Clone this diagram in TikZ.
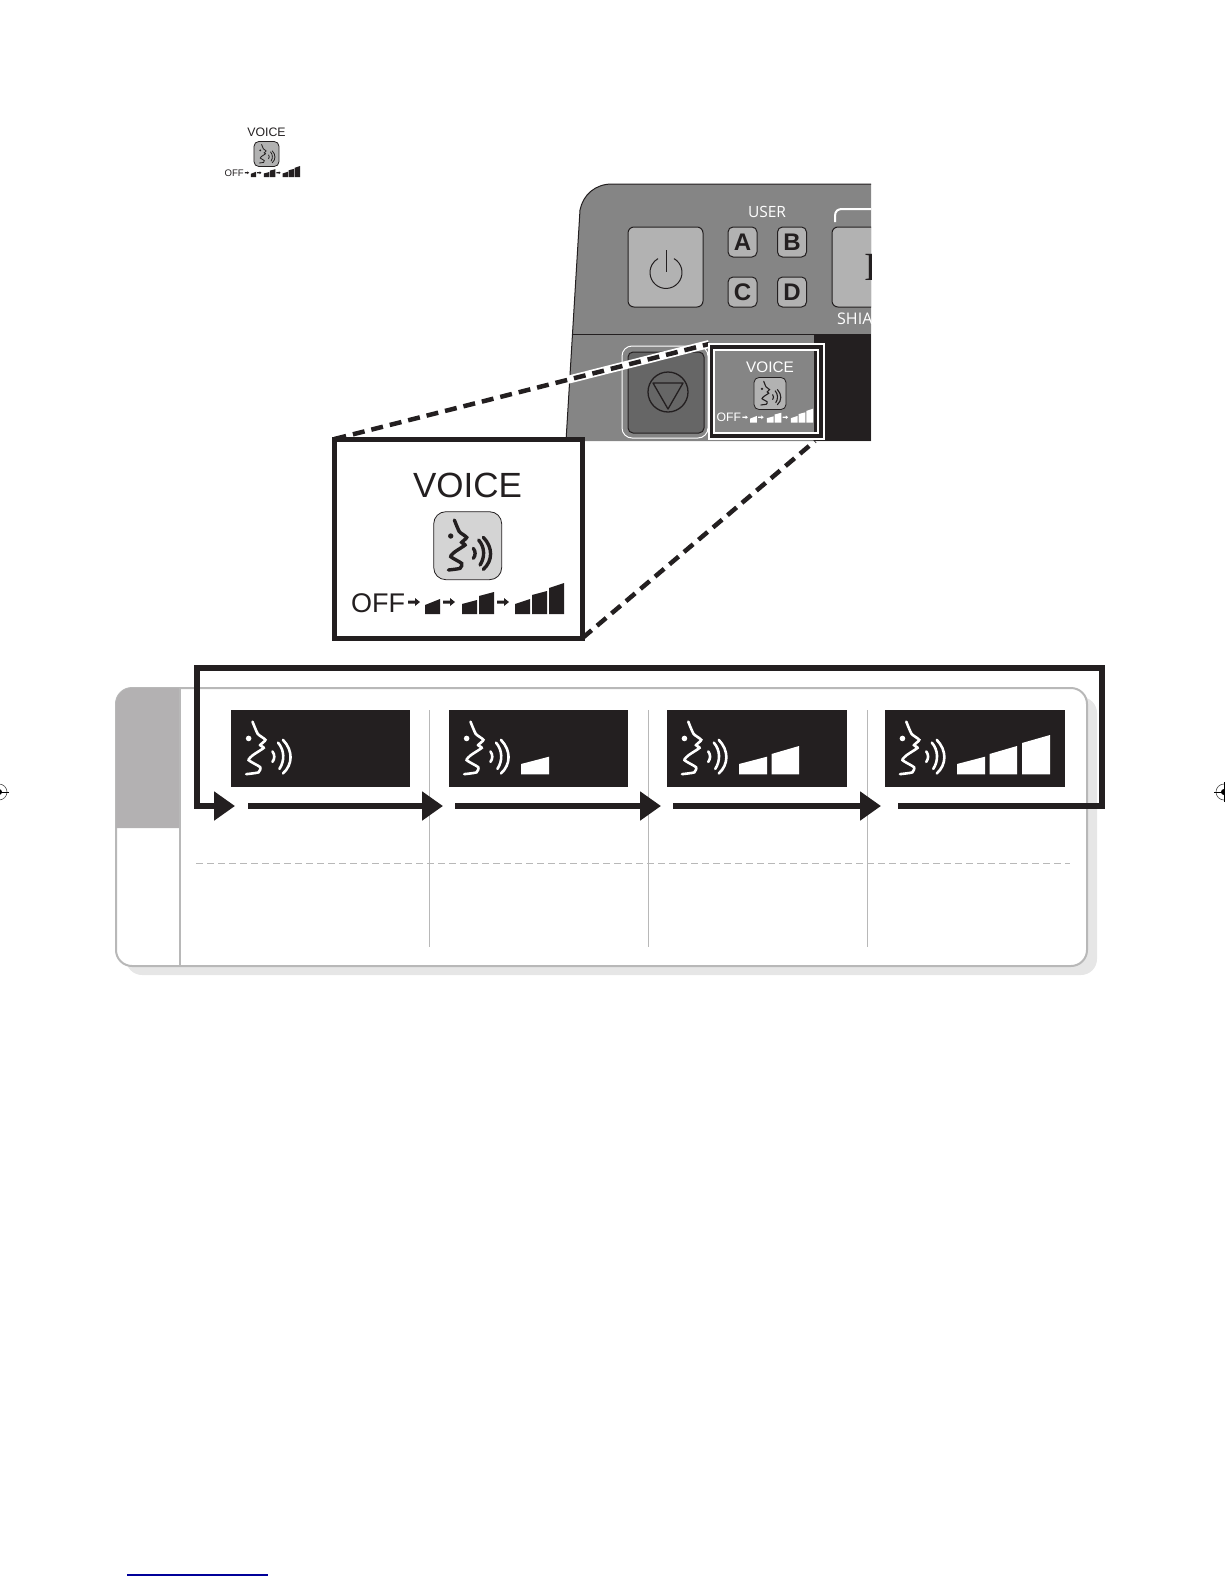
\documentclass[tikz,border=0pt]{standalone}
\usepackage{fontspec}
\usepackage{xcolor}
\usetikzlibrary{arrows.meta, positioning, calc}
\setmainfont{Liberation Sans}
\newfontfamily\panelfont{Open Sans}
\newfontfamily\romanfont{Liberation Serif}
\definecolor{Voice_Ink}{HTML}{231F20}
\definecolor{Voice_Head}{HTML}{B3B1B2}
\definecolor{Voice_Rim}{HTML}{B8B8B8}
\definecolor{Voice_Shade}{HTML}{E6E6E6}
\definecolor{Voice_Panel}{HTML}{858585}
\definecolor{Voice_Key}{HTML}{B2B2B2}
\newcommand{\sizedfont}[1]{\fontsize{#1}{#1}\selectfont}
\tikzset{
  stepbox/.style={rectangle, fill=Voice_Ink, inner sep=0pt, outer sep=0pt, minimum height=77pt},
  flowline/.style={line width=6pt, draw=Voice_Ink, -{Triangle[length=21pt,width=28pt]}},
  zoomline/.style={line width=4.5pt, Voice_Ink, dash pattern=on 12pt off 7pt},
  panelkey/.style={rounded corners=5pt, fill=Voice_Key, draw=Voice_Ink, line width=1pt},
  panellabel/.style={white, font=\panelfont\sizedfont{15.5}, inner sep=0pt},
  letterlabel/.style={Voice_Ink, font=\bfseries\sizedfont{24}, inner sep=0pt},
  guideline/.style={Voice_Rim, line width=1pt}
}
% speaking face: position, scale, line width, colour
\newcommand{\facemark}[4]{
  \begin{scope}[shift={#1}, scale=#2, line width=#3pt, #4, line cap=round]
    \draw plot[smooth, tension=0.3] coordinates {(-40,-77) (-25,-42) (-3,-25) (-18,-10) (-8,-2) (-38,18) (-51,33) (-18,53) (-23,68) (-58,73)};
    \fill (-51,-29) circle (8);
    \draw (17,8) .. controls (24,18) and (24,28) .. (17,38);
    \draw (33,-17) .. controls (52,5) and (52,35) .. (37,58);
    \draw (47,-25) .. controls (76,5) and (76,45) .. (47,71);
  \end{scope}
}
% key with face: position, scale, corner, fill, line width
\newcommand{\facekey}[5]{
  \begin{scope}[shift={#1}, scale=#2]
    \draw[rounded corners=#3pt, fill=#4, draw=Voice_Ink, line width=0.8pt] (-102,-102) rectangle (102,102);
  \end{scope}
  \facemark{#1}{#2}{#5}{Voice_Ink}
}
% OFF row: node name, position, scale, colour
\newcommand{\offrow}[4]{
  \begin{scope}[shift={#2}, scale=#3]
    \node[#4, transform shape, anchor=base west, inner sep=0pt, font=\sizedfont{27}] (#1) at (-1,-2) {OFF};
    \foreach \ax in {56,91,145} {
      \fill[#4] (\ax,-13.5) -- ++(7,0) -- ++(0,-2.5) -- ++(5,4) -- ++(-5,4) -- ++(0,-2.5) -- ++(-7,0) -- cycle;
    }
    \fill[#4] (73,0) -- (73,-9) -- (88,-15) -- (88,0) -- cycle;
    \fill[#4] (110,0) -- (110,-10) -- (125,-14) -- (125,0) -- cycle;
    \fill[#4] (127,0) -- (127,-18) -- (142,-22) -- (142,0) -- cycle;
    \fill[#4] (163,0) -- (163,-10) -- (178,-15) -- (178,0) -- cycle;
    \fill[#4] (180,0) -- (180,-19) -- (195,-23) -- (195,0) -- cycle;
    \fill[#4] (197,0) -- (197,-26) -- (212,-31) -- (212,0) -- cycle;
  \end{scope}
}
% level wedges of a display: box name, how many
\newcommand{\levelbars}[2]{
  \begin{scope}[shift={(#1.north west)}]
    \ifnum#2>0 \fill[white] (72,64.3) -- (72,54) -- (100,46.7) -- (100,64.3) -- cycle; \fi
    \ifnum#2>1 \fill[white] (104.5,64.3) -- (104.5,44) -- (132,36) -- (132,64.3) -- cycle; \fi
    \ifnum#2>2 \fill[white] (137,64.3) -- (137,33) -- (165,25) -- (165,64.3) -- cycle; \fi
  \end{scope}
}
\begin{document}
\begin{tikzpicture}[x=1pt, y=-1pt]
\useasboundingbox (0,0) rectangle (1224,1584);
% --- Small key in the margin ---
\node[Voice_Ink, font=\sizedfont{12.3}, inner sep=0pt] (smallvoice) at (266.5,132.5) {VOICE};
\facekey{(266.5,154)}{0.123}{5}{Voice_Key}{0.8}
\offrow{smalloff}{(225,177)}{0.354}{Voice_Ink}
% --- Control panel ---
\begin{scope}
\clip (560,180) rectangle (871,441);
\fill[Voice_Panel] (566,441) -- (580,210) .. controls (583,195) and (595,184) .. (612,184) -- (871,184) -- (871,441) -- cycle;
\draw[Voice_Ink, line width=1pt] (566,441) -- (580,210) .. controls (583,195) and (595,184) .. (612,184) -- (871,184);
\draw[Voice_Ink, line width=1pt] (572,334.5) -- (871,334.5);
\fill[Voice_Ink] (814,334) rectangle (871,441);
\node[panellabel] (userlabel) at (767,212) {USER};
\draw[panelkey, rounded corners=6pt] (628,227) rectangle (703,307);
\draw[Voice_Ink, line width=1pt] (674,258.6) arc[start angle=300, end angle=600, radius=16];
\draw[Voice_Ink, line width=1pt] (666,250) -- (666,272);
\foreach \lx/\ly/\letter in {742.5/242/A, 792/242/B, 742.5/292/C, 792/292/D} {
  \draw[panelkey] (\lx-14.5,\ly-15) rectangle (\lx+14.5,\ly+15);
  \node[letterlabel] (key\letter) at (\lx,\ly) {\letter};
}
\draw[panelkey, rounded corners=6pt] (832,227) rectangle (890,307);
\node[Voice_Ink, font=\romanfont\sizedfont{40}, inner sep=0pt] (shiakey) at (871,267) {I};
\draw[white, line width=2pt] (835,222) -- (835,216) .. controls (835,211) and (838,209) .. (842,209) -- (871,209);
\node[panellabel, anchor=west, font=\panelfont\sizedfont{16}] (shialabel) at (837,319) {SHIA};
\draw[white, line width=1pt, rounded corners=10pt] (622,346) rectangle (708,438);
\draw[rounded corners=5pt, fill=black!60, draw=Voice_Ink, line width=1pt] (628,352) rectangle (704,433);
\draw[Voice_Ink, line width=1.3pt] (668,392) circle (20);
\draw[Voice_Ink, line width=1.3pt, line join=round] (653,383) -- (683,383) -- (668,409) -- cycle;
\end{scope}
% --- Zoom lines ---
\node[draw=Voice_Ink, fill=white, line width=5pt, inner sep=0pt, outer sep=0pt, minimum width=248pt, minimum height=199pt] (insetbox) at (458.5,538.5) {};
\node[fill=Voice_Ink, draw=white, line width=1.5pt, inner sep=0pt, outer sep=0pt, minimum width=115pt, minimum height=95pt] (voiceframe) at (766.5,391.5) {};
\coordinate (haloend) at (567,380);
\coordinate (zoomend) at (815,441);
\draw[white, line width=8pt] (haloend) -- (voiceframe.north west);
\draw[zoomline] (insetbox.north west) -- (voiceframe.north west);
\draw[zoomline] (insetbox.south east) -- (zoomend);
\node[fill=Voice_Ink, draw=white, line width=1.5pt, inner sep=0pt, outer sep=0pt, minimum width=115pt, minimum height=95pt] (voicefront) at (766.5,391.5) {};
\fill[Voice_Panel] (714,350) rectangle (814,433);
\draw[white, line width=1.5pt] (714,350) rectangle (818,433);
\node[white, font=\sizedfont{15.3}, inner sep=0pt] (panelvoice) at (770,367) {VOICE};
\facekey{(770,393.5)}{0.157}{5}{Voice_Key}{1.1}
\offrow{paneloff}{(717,422.7)}{0.453}{white}
% --- Enlarged key ---
\node[Voice_Ink, font=\sizedfont{35}, inner sep=0pt] (insetvoice) at (467.5,485) {VOICE};
\facekey{(467.7,545.7)}{0.333}{12}{black!17}{3.4}
\offrow{insetoff}{(352,614)}{1}{Voice_Ink}
% --- Table ---
\fill[Voice_Shade, rounded corners=16pt] (126,697) rectangle (1097,975);
\draw[Voice_Rim, fill=white, line width=2pt, rounded corners=16pt] (116,688) rectangle (1087,966);
\fill[Voice_Head] (180,828) -- (116,828) [rounded corners=16pt] -- (116,688) [sharp corners] -- (180,688) -- cycle;
\draw[guideline, line width=2pt] (180,688) -- (180,966);
\foreach \gx in {429,648,867} {
  \draw[guideline] (\gx,710) -- (\gx,947);
}
\draw[guideline, dashed, dash pattern=on 7pt off 4pt] (196,863) -- (1070,863);
% Displays
\node[stepbox, minimum width=179pt] (stepa) at (320.5,748.5) {};
\node[stepbox, minimum width=179pt] (stepb) at (538.5,748.5) {};
\node[stepbox, minimum width=180pt] (stepc) at (757,748.5) {};
\node[stepbox, minimum width=180pt] (stepd) at (975,748.5) {};
\foreach \stepname/\stepx/\levels in {stepa/266.5/0, stepb/484.5/1, stepc/702.3/2, stepd/920.3/3} {
  \facemark{(\stepx,748.6)}{0.35}{2.6}{white}
  \levelbars{\stepname}{\levels}
}
% Flow arrows
\coordinate (flowstart) at (898,806);
\coordinate (flowend) at (235,806);
\draw[flowline, line join=miter] (flowstart) -- (1102,806) -- (1102,668) -- (197,668) -- (197,806) -- (flowend);
\coordinate (flowa) at (248,806);
\coordinate (flowb) at (443,806);
\coordinate (flowc) at (455,806);
\coordinate (flowd) at (661,806);
\coordinate (flowe) at (673,806);
\coordinate (flowf) at (881,806);
\draw[flowline] (flowa) -- (flowb);
\draw[flowline] (flowc) -- (flowd);
\draw[flowline] (flowe) -- (flowf);
% --- Page marks ---
\foreach \mx in {-1,1224} {
  \draw[black!70, line width=0.6pt] (\mx,792) circle (8);
  \fill[black] (\mx,792) circle (3);
  \draw[black, line width=0.6pt] (\mx-10,792) -- (\mx+10,792);
  \draw[black, line width=0.6pt] (\mx,782) -- (\mx,802);
}
\draw[blue!60!black, line width=1.2pt] (127,1575) -- (268,1575);
\end{tikzpicture}
\end{document}
